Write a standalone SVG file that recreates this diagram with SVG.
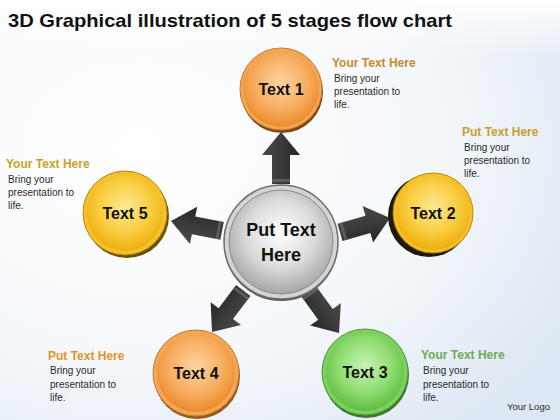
<svg xmlns="http://www.w3.org/2000/svg" width="560" height="420" viewBox="0 0 560 420">
<defs>
<radialGradient id="bg" cx="25%" cy="35%" r="90%">
<stop offset="0" stop-color="#ffffff"/>
<stop offset="0.55" stop-color="#f6f9fc"/>
<stop offset="1" stop-color="#dde7f3"/>
</radialGradient>
<linearGradient id="topfade" x1="0" y1="0" x2="0" y2="1">
<stop offset="0" stop-color="#ffffff" stop-opacity="1"/>
<stop offset="1" stop-color="#ffffff" stop-opacity="0"/>
</linearGradient>
<radialGradient id="orangeG" cx="50%" cy="42%" r="58%">
<stop offset="0" stop-color="#fcd4a4"/>
<stop offset="0.6" stop-color="#f7ae60"/>
<stop offset="1" stop-color="#ec8a2c"/>
</radialGradient>
<radialGradient id="yellowG" cx="50%" cy="42%" r="58%">
<stop offset="0" stop-color="#fde894"/>
<stop offset="0.6" stop-color="#f9cd3e"/>
<stop offset="1" stop-color="#eeae0e"/>
</radialGradient>
<radialGradient id="greenG" cx="50%" cy="42%" r="58%">
<stop offset="0" stop-color="#c8f3b4"/>
<stop offset="0.6" stop-color="#8fdc70"/>
<stop offset="1" stop-color="#5dbd44"/>
</radialGradient>
<radialGradient id="grayG" cx="50%" cy="42%" r="58%">
<stop offset="0" stop-color="#ffffff"/>
<stop offset="0.55" stop-color="#dcdcdc"/>
<stop offset="1" stop-color="#a6a6a6"/>
</radialGradient>
<linearGradient id="arrowG" x1="0" y1="0" x2="0" y2="1">
<stop offset="0" stop-color="#4a4a4a"/>
<stop offset="0.5" stop-color="#3a3a3a"/>
<stop offset="1" stop-color="#262626"/>
</linearGradient>
<path id="arrow" d="M0,0 L-23,-19 L-23,-9 L-52,-9 L-52,9 L-23,9 L-23,19 Z"/>
</defs>
<style>
.title{font-family:"Liberation Sans",Arial,sans-serif;font-weight:bold;font-size:19px;fill:#111}
.lbl{font-family:"Liberation Sans",Arial,sans-serif;font-weight:bold;font-size:16px;fill:#111;text-anchor:middle}
.clbl{font-family:"Liberation Sans",Arial,sans-serif;font-weight:bold;font-size:18px;fill:#111;text-anchor:middle}
.hd{font-family:"Liberation Sans",Arial,sans-serif;font-weight:bold;font-size:12px}
.bd{font-family:"Liberation Sans",Arial,sans-serif;font-size:10px;fill:#2a2a2a}
.arr{fill:url(#arrowG)}
.band{fill:#6a6a6a;opacity:0.7}
</style>
<rect x="0" y="0" width="560" height="420" fill="url(#bg)"/>
<rect x="0" y="0" width="560" height="60" fill="url(#topfade)"/>
<text class="title" x="8" y="27" textLength="444" lengthAdjust="spacingAndGlyphs">3D Graphical illustration of 5 stages flow chart</text>

<g id="connectors">
<g transform="translate(281,132) rotate(-90)"><use href="#arrow" class="arr"/><rect x="-50" y="-9" width="3" height="18" class="band"/></g>
<g transform="translate(390,218) rotate(-16)"><use href="#arrow" class="arr"/><rect x="-50" y="-9" width="3" height="18" class="band"/></g>
<g transform="translate(339,333) rotate(54)"><use href="#arrow" class="arr"/><rect x="-50" y="-9" width="3" height="18" class="band"/></g>
<g transform="translate(212,332) rotate(127)"><use href="#arrow" class="arr"/><rect x="-50" y="-9" width="3" height="18" class="band"/></g>
<g transform="translate(171,221) rotate(191)"><use href="#arrow" class="arr"/><rect x="-50" y="-9" width="3" height="18" class="band"/></g>
</g>

<g id="center">
<circle cx="281" cy="244" r="57" fill="#5a5a5a"/>
<circle cx="281" cy="242" r="57" fill="#d4d4d4" stroke="#6e6e6e" stroke-width="1.5"/>
<circle cx="281" cy="242" r="52" fill="url(#grayG)" stroke="#8a8a8a" stroke-width="1"/>
<text class="clbl" x="281" y="236">Put Text</text>
<text class="clbl" x="281" y="261">Here</text>
</g>

<g id="node1">
<circle cx="282" cy="92" r="41" fill="#7a4a14"/>
<circle cx="281" cy="89" r="41" fill="#f2a656" stroke="#c57a2a" stroke-width="1"/>
<circle cx="281" cy="89" r="38" fill="url(#orangeG)"/>
<text class="lbl" x="281" y="95">Text 1</text>
<text class="hd" x="332" y="67" fill="#c8892e">Your Text Here</text>
<text class="bd" x="334" y="82">Bring your</text>
<text class="bd" x="334" y="95">presentation to</text>
<text class="bd" x="334" y="108">life.</text>
</g>

<g id="node2">
<circle cx="429" cy="216" r="41" fill="#1e1a0a"/>
<circle cx="433" cy="213" r="40" fill="#f4c12a" stroke="#b88a08" stroke-width="1"/>
<circle cx="433" cy="213" r="37" fill="url(#yellowG)"/>
<text class="lbl" x="433" y="219">Text 2</text>
<text class="hd" x="462" y="136" fill="#c9a02a">Put Text Here</text>
<text class="bd" x="464" y="151">Bring your</text>
<text class="bd" x="464" y="164">presentation to</text>
<text class="bd" x="464" y="177">life.</text>
</g>

<g id="node3">
<circle cx="366" cy="375" r="43" fill="#3e7a2e"/>
<circle cx="365" cy="372" r="43" fill="#7dd05e" stroke="#4d9a3a" stroke-width="1"/>
<circle cx="365" cy="372" r="39" fill="url(#greenG)"/>
<text class="lbl" x="365" y="378">Text 3</text>
<text class="hd" x="421" y="359" fill="#6aac55">Your Text Here</text>
<text class="bd" x="423" y="374">Bring your</text>
<text class="bd" x="423" y="388">presentation to</text>
<text class="bd" x="423" y="401">life.</text>
<text class="bd" x="507" y="410" style="font-size:9.5px">Your Logo</text>
</g>

<g id="node4">
<circle cx="197" cy="376" r="43" fill="#9a5a1c"/>
<circle cx="196" cy="373" r="43" fill="#f3a656" stroke="#c57a2a" stroke-width="1"/>
<circle cx="196" cy="373" r="39" fill="url(#orangeG)"/>
<text class="lbl" x="196" y="379">Text 4</text>
<text class="hd" x="48" y="360" fill="#e0932e">Put Text Here</text>
<text class="bd" x="50" y="374">Bring your</text>
<text class="bd" x="50" y="388">presentation to</text>
<text class="bd" x="50" y="401">life.</text>
</g>

<g id="node5">
<circle cx="127" cy="216" r="42" fill="#6a5008"/>
<circle cx="125" cy="213" r="42" fill="#f4c12a" stroke="#b88a08" stroke-width="1"/>
<circle cx="125" cy="213" r="38" fill="url(#yellowG)"/>
<text class="lbl" x="125" y="219">Text 5</text>
<text class="hd" x="6" y="168" fill="#c9a02a">Your Text Here</text>
<text class="bd" x="8" y="183">Bring your</text>
<text class="bd" x="8" y="196">presentation to</text>
<text class="bd" x="8" y="209">life.</text>
</g>
</svg>
